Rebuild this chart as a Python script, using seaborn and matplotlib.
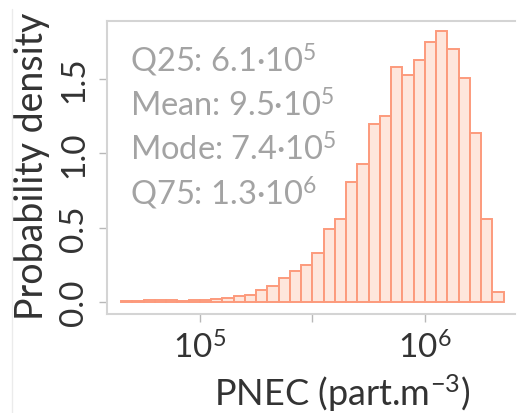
import numpy as np
import pandas as pd
import seaborn as sns
import matplotlib.pyplot as plt
from matplotlib.lines import Line2D

sns.set_theme(style="white")
plt.rcParams["font.family"] = ["Lato", "DejaVu Sans"]
plt.rcParams["mathtext.fontset"] = "custom"
plt.rcParams["mathtext.rm"] = "Lato"
plt.rcParams["mathtext.it"] = "Lato:italic"

# Histogram of log10(PNEC), bins of 0.05 decade
bin_edges = [round(4.65 + 0.05 * i, 3) for i in range(35)]
density = [0.005, 0.008, 0.012, 0.016, 0.012, 0.010, 0.016, 0.012, 0.020, 0.025,
           0.04, 0.05, 0.08, 0.11, 0.16, 0.21, 0.25, 0.33, 0.49, 0.56,
           0.81, 0.93, 1.20, 1.25, 1.58, 1.53, 1.63, 1.75, 1.82, 1.70,
           1.51, 1.14, 0.56, 0.07]
stats_lines = ["Q25: 6.1·10$^{5}$", "Mean: 9.5·10$^{5}$",
               "Mode: 7.4·10$^{5}$", "Q75: 1.3·10$^{6}$"]
x_ticks = [5.0, 5.5, 6.0]
x_ticklabels = ["10$^{5}$", "", "10$^{6}$"]
y_ticks = [0.0, 0.5, 1.0, 1.5]

centers = [(a + b) / 2 for a, b in zip(bin_edges[:-1], bin_edges[1:])]
df = pd.DataFrame({"log_pnec": centers, "density": density})

W, H = 517, 414
RIGHT = 515
fig = plt.figure(figsize=(W / 100, H / 100), dpi=100)
ax = fig.add_axes([107 / W, 1 - 315 / H, (RIGHT - 107) / W, (315 - 22) / H])

sns.histplot(data=df, x="log_pnec", weights="density", bins=bin_edges,
             stat="count", ax=ax, color="#fee6dc", alpha=1.0,
             edgecolor="#fc9a7c", linewidth=1.4)

# 225 px per decade, 10^6 at x = 425 px
ax.set_xlim(4.587, 6 + (RIGHT - 425) / 225)
ax.set_ylim(-0.08, 1.89)
ax.set_xticks(x_ticks)
ax.set_xticklabels(x_ticklabels)
ax.set_yticks(y_ticks)
ax.set_yticklabels([f"{v:.1f}" for v in y_ticks], rotation=90, va="center")
ax.tick_params(axis="both", which="both", direction="out", length=6, width=1,
               color="#b8b8b8", labelcolor="#333333", labelsize=24,
               bottom=True, left=True)
ax.tick_params(axis="x", pad=6)
ax.tick_params(axis="y", pad=7)
ax.spines["right"].set_visible(False)
for s in ax.spines.values():
    s.set_color("#d4d4d4")
    s.set_linewidth(1.5)

ax_w, ax_h = RIGHT - 107, 315 - 22
ax.set_xlabel("PNEC (part.m$^{-3}$)", fontsize=26, color="#333333")
ax.xaxis.set_label_coords((342 - 107) / ax_w, (315 - 372) / ax_h)
ax.set_ylabel("Probability density", fontsize=27, color="#333333")
ax.yaxis.set_label_coords((50 - 107) / ax_w, (315 - 166) / ax_h)

for i, line in enumerate(stats_lines):
    fig.text(130 / W, 1 - (72 + 44.5 * i) / H, line, fontsize=23.5,
             color="#a3a3a3", ha="left", va="baseline")

fig.add_artist(Line2D([12 / W, 12 / W], [0, 1 - 10 / H],
                      transform=fig.transFigure, color="#ebebeb", linewidth=1))

fig.savefig("out.png", dpi=100)
